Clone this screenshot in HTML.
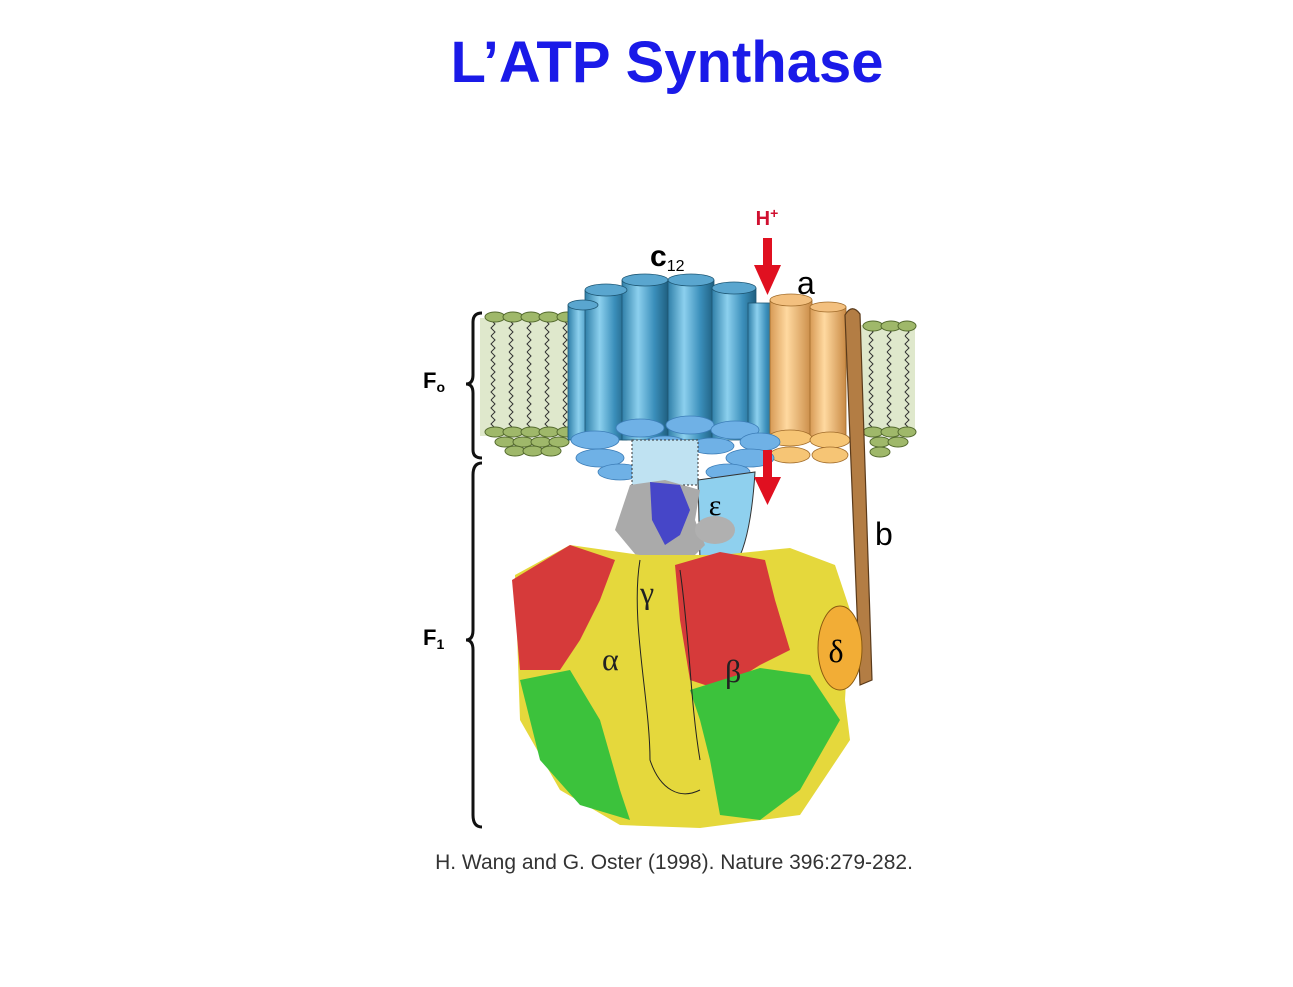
<!DOCTYPE html>
<html><head><meta charset="utf-8"><style>
body{margin:0;background:#fff;width:1293px;height:982px;overflow:hidden;font-family:"Liberation Sans",sans-serif}
</style></head><body>
<svg width="1293" height="982" viewBox="0 0 1293 982" xmlns="http://www.w3.org/2000/svg" font-family="Liberation Sans, sans-serif">
<defs>
<linearGradient id="cyl" x1="0" x2="1"><stop offset="0" stop-color="#2f7fa8"/><stop offset="0.35" stop-color="#8cd0ee"/><stop offset="0.7" stop-color="#3b8fbb"/><stop offset="1" stop-color="#1f5f80"/></linearGradient>
<linearGradient id="org" x1="0" x2="1"><stop offset="0" stop-color="#d79a55"/><stop offset="0.4" stop-color="#ffd9a0"/><stop offset="1" stop-color="#c98a45"/></linearGradient>
<pattern id="lip" width="18" height="16" patternUnits="userSpaceOnUse"><path d="M5 0 l4 4 -4 4 4 4 -4 4" stroke="#333" fill="none" stroke-width="1"/></pattern>
</defs>
<text x="667" y="82" text-anchor="middle" font-size="58" font-weight="bold" fill="#1a1ae8">L’ATP Synthase</text>
<rect x="480" y="318" width="95" height="118" fill="#dfe8cc"/>
<rect x="480" y="322" width="95" height="110" fill="url(#lip)"/>
<rect x="860" y="325" width="55" height="108" fill="#dfe8cc"/>
<rect x="860" y="330" width="55" height="100" fill="url(#lip)"/>
<g fill="#9fb86a" stroke="#556b2f" stroke-width="1">
<ellipse cx="495" cy="317" rx="10" ry="5"/><ellipse cx="513" cy="317" rx="10" ry="5"/><ellipse cx="531" cy="317" rx="10" ry="5"/><ellipse cx="549" cy="317" rx="10" ry="5"/><ellipse cx="567" cy="317" rx="10" ry="5"/>
<ellipse cx="495" cy="432" rx="10" ry="5"/><ellipse cx="513" cy="432" rx="10" ry="5"/><ellipse cx="531" cy="432" rx="10" ry="5"/><ellipse cx="549" cy="432" rx="10" ry="5"/><ellipse cx="567" cy="432" rx="10" ry="5"/>
<ellipse cx="505" cy="442" rx="10" ry="5"/><ellipse cx="523" cy="442" rx="10" ry="5"/><ellipse cx="541" cy="442" rx="10" ry="5"/><ellipse cx="559" cy="442" rx="10" ry="5"/>
<ellipse cx="515" cy="451" rx="10" ry="5"/><ellipse cx="533" cy="451" rx="10" ry="5"/><ellipse cx="551" cy="451" rx="10" ry="5"/>
<ellipse cx="873" cy="326" rx="10" ry="5"/><ellipse cx="891" cy="326" rx="10" ry="5"/><ellipse cx="907" cy="326" rx="9" ry="5"/>
<ellipse cx="873" cy="432" rx="10" ry="5"/><ellipse cx="891" cy="432" rx="10" ry="5"/><ellipse cx="907" cy="432" rx="9" ry="5"/>
<ellipse cx="880" cy="442" rx="10" ry="5"/><ellipse cx="898" cy="442" rx="10" ry="5"/><ellipse cx="880" cy="452" rx="10" ry="5"/>
</g>
<g stroke="#1d5673" stroke-width="0.8">
<rect x="568" y="305" width="30" height="135" fill="url(#cyl)"/>
<rect x="585" y="290" width="42" height="150" fill="url(#cyl)"/>
<rect x="622" y="280" width="46" height="160" fill="url(#cyl)"/>
<rect x="668" y="280" width="46" height="160" fill="url(#cyl)"/>
<rect x="712" y="288" width="44" height="152" fill="url(#cyl)"/>
<rect x="748" y="303" width="26" height="137" fill="url(#cyl)"/>
<ellipse cx="583" cy="305" rx="15" ry="5" fill="#5aa6cf"/>
<ellipse cx="606" cy="290" rx="21" ry="6" fill="#5aa6cf"/>
<ellipse cx="645" cy="280" rx="23" ry="6" fill="#5aa6cf"/>
<ellipse cx="691" cy="280" rx="23" ry="6" fill="#5aa6cf"/>
<ellipse cx="734" cy="288" rx="22" ry="6" fill="#5aa6cf"/>
</g>
<g stroke="#a06b2a" stroke-width="0.8">
<rect x="770" y="300" width="42" height="140" fill="url(#org)"/>
<rect x="810" y="307" width="36" height="133" fill="url(#org)"/>
<ellipse cx="791" cy="300" rx="21" ry="6" fill="#f3c07f"/>
<ellipse cx="828" cy="307" rx="18" ry="5" fill="#f3c07f"/>
<ellipse cx="790" cy="438" rx="22" ry="8" fill="#f6c575"/><ellipse cx="830" cy="440" rx="20" ry="8" fill="#f6c575"/>
<ellipse cx="790" cy="455" rx="20" ry="8" fill="#f6c575"/><ellipse cx="830" cy="455" rx="18" ry="8" fill="#f6c575"/>
</g>
<g fill="#6fb1e6" stroke="#3d7eb8" stroke-width="0.8">
<ellipse cx="595" cy="440" rx="24" ry="9"/><ellipse cx="640" cy="428" rx="24" ry="9"/><ellipse cx="690" cy="425" rx="24" ry="9"/><ellipse cx="735" cy="430" rx="24" ry="9"/><ellipse cx="760" cy="442" rx="20" ry="9"/>
<ellipse cx="600" cy="458" rx="24" ry="9"/><ellipse cx="750" cy="458" rx="24" ry="9"/>
<ellipse cx="620" cy="472" rx="22" ry="8"/><ellipse cx="728" cy="472" rx="22" ry="8"/>
<ellipse cx="665" cy="444" rx="22" ry="8"/><ellipse cx="712" cy="446" rx="22" ry="8"/>
</g>
<rect x="632" y="440" width="66" height="45" fill="#bfe2f2" stroke="#333" stroke-dasharray="2,2"/>
<path d="M698 480 L755 472 C752 520 745 550 735 565 L700 560 Z" fill="#8fd0ee" stroke="#333" stroke-width="1"/>
<text x="715" y="515" text-anchor="middle" font-size="30" font-family="Liberation Serif, serif">ε</text>
<path d="M630 485 L665 480 L700 490 L695 520 L705 545 L690 560 L640 560 L615 530 Z" fill="#aaaaaa"/>
<path d="M650 482 L680 485 L690 510 L680 535 L665 545 L652 520 Z" fill="#4646c8"/>
<ellipse cx="715" cy="530" rx="20" ry="14" fill="#b0b0b0"/>
<path d="M515 575 L570 545 L640 555 L720 555 L790 548 L835 565 L850 610 L845 700 L850 740 L800 815 L700 828 L620 825 L560 790 L520 720 Z" fill="#e5d83c"/>
<path d="M512 580 L570 545 L615 560 L600 600 L580 640 L560 670 L520 670 Z" fill="#d63a3a"/>
<path d="M675 565 L720 552 L765 560 L775 600 L790 650 L760 665 L720 690 L690 680 L680 620 Z" fill="#d63a3a"/>
<path d="M520 680 L570 670 L600 720 L620 790 L630 820 L580 805 L540 760 Z" fill="#3cc23c"/>
<path d="M690 690 L760 668 L810 675 L840 720 L800 790 L760 820 L720 815 L710 760 L700 720 Z" fill="#3cc23c"/>
<path d="M640 560 C630 620 650 700 650 760 C660 790 680 800 700 790 M680 570 C690 640 690 700 700 760" stroke="#222" fill="none" stroke-width="1"/>
<g font-family="Liberation Serif, serif" font-size="32" fill="#222">
<text x="640" y="603">γ</text><text x="602" y="670">α</text><text x="725" y="682">β</text>
</g>
<path d="M845 315 Q852 303 860 314 L872 680 L860 685 Z" fill="#b37d44" stroke="#5a3a1a" stroke-width="1.2"/>
<ellipse cx="840" cy="648" rx="22" ry="42" fill="#f2ad36" stroke="#8a5a10"/>
<text x="836" y="662" text-anchor="middle" font-size="32" font-family="Liberation Serif, serif">δ</text>
<g fill="#e01020"><rect x="763" y="238" width="9" height="30"/><path d="M754 265 L781 265 L767.5 295 Z"/>
<rect x="763" y="450" width="9" height="30"/><path d="M754 477 L781 477 L767.5 505 Z"/></g>
<text x="767" y="225" text-anchor="middle" font-size="20" font-weight="bold" fill="#d01030">H<tspan dy="-7" font-size="14">+</tspan></text>
<text x="650" y="266" font-size="30" font-weight="bold">c<tspan font-size="16" font-weight="normal" dy="5">12</tspan></text>
<text x="797" y="294" font-size="32">a</text>
<text x="875" y="545" font-size="32">b</text>
<text x="423" y="388" font-size="22" font-weight="bold">F<tspan font-size="14" dy="4">o</tspan></text>
<text x="423" y="645" font-size="22" font-weight="bold">F<tspan font-size="14" dy="4">1</tspan></text>
<path d="M482 313 Q473 313 473 322 L473 375 Q473 384 466 384 Q473 384 473 393 L473 450 Q473 458 482 458" stroke="#111" stroke-width="3" fill="none"/>
<path d="M482 463 Q473 463 473 475 L473 630 Q473 640 466 640 Q473 640 473 650 L473 815 Q473 827 482 827" stroke="#111" stroke-width="3" fill="none"/>
<text x="674" y="869" text-anchor="middle" font-size="21" fill="#333">H. Wang and G. Oster (1998). Nature 396:279-282.</text>
</svg>
</body></html>
